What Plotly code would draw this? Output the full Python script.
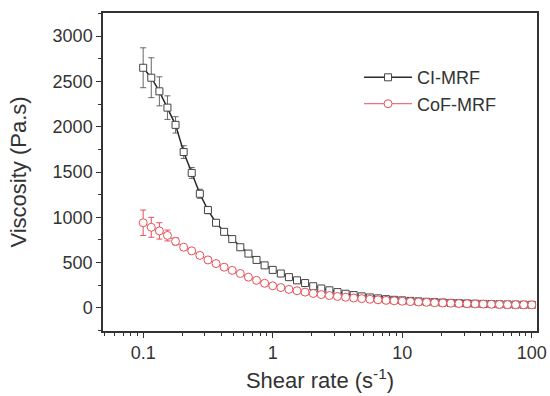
import plotly.graph_objects as go

shear_rate = [0.1, 0.1155, 0.1334, 0.154, 0.1778, 0.2054, 0.2371, 0.2738, 0.3162, 0.3652,
              0.4217, 0.487, 0.5623, 0.6494, 0.7499, 0.866, 1.0, 1.155, 1.334, 1.54,
              1.778, 2.054, 2.371, 2.738, 3.162, 3.652, 4.217, 4.87, 5.623, 6.494,
              7.499, 8.66, 10.0, 11.55, 13.34, 15.4, 17.78, 20.54, 23.71, 27.38,
              31.62, 36.52, 42.17, 48.7, 56.23, 64.94, 74.99, 86.6, 100.0]

ci_mrf = [2650, 2540, 2390, 2210, 2020, 1720, 1490, 1260, 1080, 940,
          840, 760, 670, 600, 530, 470, 420, 380, 340, 305,
          275, 240, 215, 195, 175, 157, 142, 128, 116, 106,
          97, 90, 84, 78, 73, 68, 64, 60, 56, 53,
          50, 47, 45, 43, 41, 39, 37, 36, 35]
ci_err = [220, 220, 160, 130, 90, 70, 60, 50, 40, 35,
          30, 28, 26, 24, 22, 20, 20, 18, 18, 18,
          18, 18, 18, 18, 18, 18, 18, 18, 18, 18,
          18, 18, 18, 18, 18, 18, 18, 18, 18, 18,
          18, 18, 18, 18, 18, 18, 18, 18, 18]

cof_mrf = [940, 890, 850, 800, 735, 670, 630, 580, 530, 490,
           450, 415, 380, 340, 305, 272, 245, 225, 205, 190,
           175, 160, 148, 137, 127, 118, 110, 103, 96, 90,
           84, 79, 74, 70, 66, 62, 58, 55, 52, 49,
           47, 45, 43, 41, 39, 37, 36, 35, 34]
cof_err = [140, 110, 90, 60, 40, 30, 25, 22, 20, 18,
           16, 15, 15, 15, 15, 15, 15, 15, 15, 18,
           20, 22, 24, 26, 28, 30, 30, 30, 30, 30,
           30, 30, 30, 30, 30, 30, 30, 30, 30, 30,
           30, 30, 30, 30, 30, 30, 30, 30, 30]

x_major = [0.1, 1, 10, 100]
x_minor = [m * d for d in (0.01, 0.1, 1, 10) for m in range(2, 10) if 0.05 <= m * d <= 100]

BLACK = "#2a2a2a"
RED = "#e8505a"

fig = go.Figure()
fig.add_trace(go.Scatter(
    x=shear_rate, y=ci_mrf, name="CI-MRF", mode="lines+markers",
    line=dict(color=BLACK, width=1.5),
    marker=dict(symbol="square", size=7, color="white", line=dict(width=1, color="#444444")),
    error_y=dict(type="data", array=ci_err, visible=True, color="#666666", thickness=1, width=3),
))
fig.add_trace(go.Scatter(
    x=shear_rate, y=cof_mrf, name="CoF-MRF", mode="lines+markers",
    line=dict(color=RED, width=1),
    marker=dict(symbol="circle", size=8, color="white", line=dict(width=1, color=RED)),
    error_y=dict(type="data", array=cof_err, visible=True, color=RED, thickness=1, width=3),
))

font_family = "Liberation Sans, Arial, sans-serif"
fig.update_layout(
    width=550, height=396,
    margin=dict(l=103, r=13, t=13, b=65),
    paper_bgcolor="white", plot_bgcolor="white",
    font=dict(family=font_family, size=18, color="#333333"),
    showlegend=True,
    legend=dict(x=0.59, y=0.855, xanchor="left", yanchor="top",
                bgcolor="rgba(0,0,0,0)", font=dict(size=18, color="#333333"),
                tracegroupgap=0, itemwidth=48),
    xaxis=dict(
        type="log", range=[-1.31, 2.04], automargin=False,
        tickvals=x_major, ticktext=["0.1", "1", "10", "100"],
        ticks="outside", ticklen=5, tickwidth=1.2, tickcolor="#333333",
        tickfont=dict(size=18),
        minor=dict(tickvals=x_minor, ticks="outside", ticklen=3, tickwidth=1, tickcolor="#333333", showgrid=False),
        showline=True, linecolor="#333333", linewidth=1.5, mirror=True,
        showgrid=False, zeroline=False,
        title=dict(text="Shear rate (s<sup>-1</sup>)", font=dict(size=22), standoff=10),
    ),
    yaxis=dict(
        range=[-254, 3254], automargin=False,
        tickvals=[0, 500, 1000, 1500, 2000, 2500, 3000],
        ticks="outside", ticklen=5, tickwidth=1.2, tickcolor="#333333",
        tickfont=dict(size=18),
        minor=dict(dtick=250, tick0=0, ticks="outside", ticklen=3, tickwidth=1, tickcolor="#333333", showgrid=False),
        showline=True, linecolor="#333333", linewidth=1.5, mirror=True,
        showgrid=False, zeroline=False,
        title=dict(text="Viscosity (Pa.s)", font=dict(size=22), standoff=20),
    ),
)

fig.write_html("out.html")
